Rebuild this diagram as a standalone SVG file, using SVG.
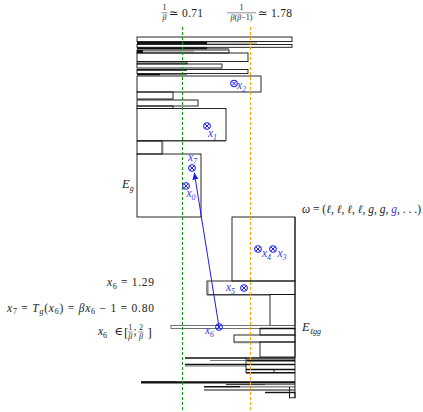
<svg xmlns="http://www.w3.org/2000/svg" width="423" height="412" viewBox="0 0 423 412">
<style>
.r{fill:none;stroke:#111;stroke-width:0.9}
.g{fill:none;stroke:#777;stroke-width:1}
.k{stroke:#111;stroke-width:1.4}
.kg{stroke:#777;stroke-width:1.2}
.t{font-family:"Liberation Serif","DejaVu Serif",serif;font-size:11.5px;fill:#222}
.i{font-style:italic}
.s{font-size:8px}
.b{fill:#3a3af0}
.gd{stroke:#119911;stroke-width:1.1;stroke-dasharray:3,2;fill:none}
.od{stroke:#ffa500;stroke-width:1.1;stroke-dasharray:3,2;fill:none}
</style>
<defs>
<g id="ot"><circle r="3.3" fill="none" stroke="#1a1aff" stroke-width="1.1"/><path d="M-2.2,-2.2L2.2,2.2M-2.2,2.2L2.2,-2.2" stroke="#1a1aff" stroke-width="1"/></g>
<marker id="ah" markerWidth="8" markerHeight="8" refX="7" refY="4" orient="auto" markerUnits="userSpaceOnUse"><path d="M0,1L7,4L0,7z" fill="#1a1aff"/></marker>
</defs>
<rect width="423" height="412" fill="#fff"/>

<g id="boxes">
<rect class="r" x="137" y="37" width="155" height="4.5"/>
<line class="kg" x1="207" y1="43" x2="257" y2="43"/>
<line class="k" x1="137" y1="43" x2="207" y2="43" style="stroke-width:2"/>
<rect class="r" x="137" y="44.5" width="155" height="2.8"/>
<line class="kg" x1="207" y1="48.5" x2="229" y2="48.5"/>
<line class="k" x1="137" y1="48.3" x2="207" y2="48.3" style="stroke-width:2"/>
<rect class="r" x="137" y="50" width="92" height="3"/>
<line class="kg" x1="143" y1="50.8" x2="194" y2="50.8"/>
<rect x="137" y="50" width="6" height="3" fill="#111"/>
<rect class="r" x="137" y="53" width="111" height="8.5"/>
<rect class="r" x="137" y="62" width="50" height="1.8"/>
<rect class="r" x="137" y="64" width="85" height="4"/>
<rect class="r" x="137" y="69.5" width="111" height="4"/>
<line class="k" x1="137" y1="70" x2="187" y2="70"/>
<line class="kg" x1="160" y1="74.5" x2="187" y2="74.5"/>
<line class="k" x1="137" y1="74.5" x2="160" y2="74.5" style="stroke-width:1.6"/>
<rect class="r" x="137" y="76" width="124" height="16"/>
<rect class="r" x="137" y="92" width="36" height="7"/>
<line class="g" x1="137" y1="99.3" x2="173" y2="99.3"/>
<rect class="r" x="137" y="100" width="61" height="6"/>
<rect class="r" x="137" y="106" width="36" height="2.5"/>
<rect class="r" x="137" y="108.5" width="89" height="32"/>
<line class="g" x1="137" y1="141.2" x2="226" y2="141.2"/>
<rect class="r" x="137" y="141" width="25" height="13"/>
<line class="g" x1="162.8" y1="141" x2="162.8" y2="154"/>
<rect class="r" x="137" y="154" width="64" height="63"/>
<rect class="r" x="232" y="217" width="63" height="64"/>
<rect class="r" x="207" y="281" width="88" height="13.5"/>
<line class="g" x1="208" y1="281" x2="208" y2="294.5"/>
<line class="g" x1="207" y1="295.2" x2="270" y2="295.2"/>
<rect class="r" x="270" y="294.5" width="25" height="31"/>
<rect x="171" y="325.5" width="124" height="3" fill="none" stroke="#666" stroke-width="0.9"/>
<line class="k" x1="260" y1="328.5" x2="295" y2="328.5"/>
<rect class="r" x="260" y="328.5" width="35" height="6.5"/>
<rect class="r" x="234" y="335" width="61" height="7"/>
<line class="g" x1="234" y1="342.7" x2="260" y2="342.7"/>
<rect class="r" x="260" y="342" width="35" height="15"/>
<line class="k" x1="185" y1="358" x2="295" y2="358" style="stroke-width:1.6"/>
<line class="kg" x1="210" y1="360.5" x2="247" y2="360.5"/>
<line class="k" x1="247" y1="360.5" x2="295" y2="360.5" style="stroke-width:2"/>
<line class="k" x1="185" y1="364.5" x2="295" y2="364.5"/>
<line class="kg" x1="185" y1="366" x2="246" y2="366"/>
<line class="r" x1="246" y1="358" x2="246" y2="373"/>
<line class="k" x1="246" y1="369.5" x2="295" y2="369.5"/>
<line class="r" x1="274" y1="369.5" x2="274" y2="372.5"/>
<line class="k" x1="246" y1="372.7" x2="295" y2="372.7"/>
<line class="kg" x1="141" y1="381.6" x2="177" y2="381.6"/>
<line class="k" x1="141" y1="382.3" x2="295" y2="382.3" style="stroke-width:2.2"/>
<line class="kg" x1="265" y1="384.5" x2="295" y2="384.5"/>
<line class="k" x1="226" y1="384.6" x2="265" y2="384.6" style="stroke-width:0.9"/>
<line class="kg" x1="240" y1="386.8" x2="295" y2="386.8"/>
<line class="k" x1="204" y1="386.8" x2="240" y2="386.8"/>
<line class="k" x1="204" y1="390" x2="295" y2="390" style="stroke-width:1.2"/>
<line class="k" x1="265" y1="392.5" x2="295" y2="392.5"/>
<line class="r" x1="289.5" y1="387" x2="289.5" y2="398"/>
<rect class="r" x="289.5" y="392.5" width="5.5" height="5.3"/>
<line class="r" x1="295" y1="217" x2="295" y2="398"/>
</g>

<g id="guides">
<line class="gd" x1="182.5" y1="27" x2="182.5" y2="412"/>
<line class="od" x1="250.5" y1="27" x2="250.5" y2="412"/>
</g>

<g id="connectors">
<line x1="219" y1="327" x2="194.3" y2="172.5" stroke="#1a1aff" stroke-width="1" marker-end="url(#ah)"/>
</g>

<g id="points" font-family="Liberation Serif, DejaVu Serif, serif">
<g id="p0"><use href="#ot" x="186" y="186"/><text class="t i b" x="186.5" y="197">x<tspan class="s" dy="2.5">0</tspan></text></g>
<g id="p7"><use href="#ot" x="192" y="168"/><text class="t i b" x="188" y="161">x<tspan class="s" dy="2.5">7</tspan></text></g>
<g id="p1"><use href="#ot" x="207" y="126"/><text class="t i b" x="208" y="137">x<tspan class="s" dy="2.5">1</tspan></text></g>
<g id="p2"><use href="#ot" x="234" y="83.5"/><text class="t i b" x="237" y="89">x<tspan class="s" dy="2.5">2</tspan></text></g>
<g id="p4"><use href="#ot" x="258" y="249"/><text class="t i b" x="262" y="257">x<tspan class="s" dy="2.5">4</tspan></text></g>
<g id="p3"><use href="#ot" x="273" y="249"/><text class="t i b" x="277.5" y="257">x<tspan class="s" dy="2.5">3</tspan></text></g>
<g id="p5"><use href="#ot" x="244" y="288"/><text class="t i b" x="226" y="291">x<tspan class="s" dy="2.5">5</tspan></text></g>
<g id="p6"><use href="#ot" x="219" y="327"/><text class="t i b" x="205" y="334">x<tspan class="s" dy="2.5">6</tspan></text></g>
</g>

<g id="labels" font-family="Liberation Serif, DejaVu Serif, serif">
<text class="t s" x="164.5" y="10" text-anchor="middle">1</text>
<line x1="161.5" y1="12.8" x2="167.5" y2="12.8" stroke="#222" stroke-width="0.5"/>
<text class="t s i" x="164.5" y="19.5" text-anchor="middle">β</text>
<text class="t" x="169" y="17" textLength="34" lengthAdjust="spacing">≃ 0.71</text>
<text class="t s" x="241.5" y="10" text-anchor="middle">1</text>
<line x1="227" y1="12.8" x2="256" y2="12.8" stroke="#222" stroke-width="0.5"/>
<text class="t s" x="241.5" y="19.5" text-anchor="middle"><tspan class="i">β</tspan>(<tspan class="i">β</tspan>−1)</text>
<text class="t" x="258" y="17" textLength="34" lengthAdjust="spacing">≃ 1.78</text>

<text class="t i" x="122" y="188" style="font-size:12.5px">E<tspan class="s" dy="2.5">g</tspan></text>
<text class="t i" x="302" y="331" style="font-size:12.5px">E<tspan class="s" dy="2.5">ℓgg</tspan></text>

<text class="t" x="302" y="212.5" textLength="119" lengthAdjust="spacing"><tspan class="i">ω</tspan> = (<tspan class="i">ℓ</tspan>, <tspan class="i">ℓ</tspan>, <tspan class="i">ℓ</tspan>, <tspan class="i">ℓ</tspan>, <tspan class="i">g</tspan>, <tspan class="i">g</tspan>, <tspan class="i b">g</tspan>, . . .)</text>

<text class="t" x="107" y="286" textLength="47" lengthAdjust="spacing"><tspan class="i">x</tspan><tspan class="s" dy="2.5">6</tspan><tspan dy="-2.5"> = 1.29</tspan></text>

<text class="t" x="7" y="311.5" textLength="147" lengthAdjust="spacing"><tspan class="i">x</tspan><tspan class="s" dy="2.5">7</tspan><tspan dy="-2.5"> = </tspan><tspan class="i">T</tspan><tspan class="s i" dy="2.5">g</tspan><tspan dy="-2.5">(</tspan><tspan class="i">x</tspan><tspan class="s" dy="2.5">6</tspan><tspan dy="-2.5">) = </tspan><tspan class="i">βx</tspan><tspan class="s" dy="2.5">6</tspan><tspan dy="-2.5"> − 1 = 0.80</tspan></text>

<text class="t" x="98" y="335"><tspan class="i">x</tspan><tspan class="s" dy="2.5">6</tspan></text>
<text class="t" x="114.5" y="335">∈</text>
<text class="t" x="124" y="337" style="font-size:13px">[</text>
<text class="t s" x="130.2" y="330" text-anchor="middle">1</text>
<line x1="128" y1="332" x2="132.5" y2="332" stroke="#222" stroke-width="0.5"/>
<text class="t s i" x="130.2" y="338.5" text-anchor="middle">β</text>
<text class="t" x="133.5" y="335">;</text>
<text class="t s" x="141" y="330" text-anchor="middle">2</text>
<line x1="138.5" y1="332" x2="143.5" y2="332" stroke="#222" stroke-width="0.5"/>
<text class="t s i" x="141" y="338.5" text-anchor="middle">β</text>
<text class="t" x="147.5" y="337" style="font-size:13px">]</text>
</g>
</svg>
